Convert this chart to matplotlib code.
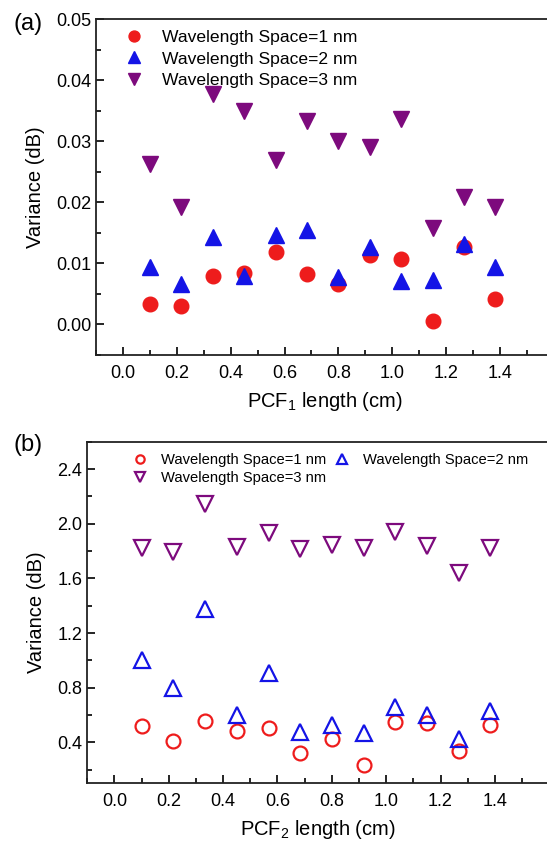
import numpy as np
import matplotlib
matplotlib.use("Agg")
import matplotlib.pyplot as plt
from matplotlib.ticker import MultipleLocator, FixedLocator

plt.rcParams['font.family'] = ['Liberation Sans', 'DejaVu Sans']
plt.rcParams['mathtext.fontset'] = 'custom'
plt.rcParams['mathtext.rm'] = 'Liberation Sans'
plt.rcParams['mathtext.it'] = 'Liberation Sans'

# PCF lengths (cm)
length = [0.1, 0.217, 0.333, 0.45, 0.567, 0.683, 0.8, 0.917, 1.033, 1.15, 1.267, 1.383]
xticks = [0.0, 0.2, 0.4, 0.6, 0.8, 1.0, 1.2, 1.4]

# panel (a) variance (dB)
a_space1 = [0.0033, 0.0031, 0.0080, 0.0084, 0.0119, 0.0082, 0.0067, 0.0113, 0.0107, 0.0006, 0.0127, 0.0042]
a_space2 = [0.0094, 0.0067, 0.0144, 0.0080, 0.0147, 0.0155, 0.0077, 0.0127, 0.0071, 0.0072, 0.0131, 0.0094]
a_space3 = [0.0263, 0.0192, 0.0377, 0.0349, 0.0270, 0.0333, 0.0300, 0.0291, 0.0336, 0.0158, 0.0209, 0.0192]

# panel (b) variance (dB)
b_space1 = [0.519, 0.412, 0.558, 0.480, 0.507, 0.320, 0.422, 0.235, 0.546, 0.544, 0.337, 0.529]
b_space2 = [1.006, 0.794, 1.378, 0.600, 0.904, 0.478, 0.527, 0.471, 0.660, 0.600, 0.422, 0.631]
b_space3 = [1.823, 1.792, 2.145, 1.828, 1.930, 1.816, 1.841, 1.821, 1.938, 1.836, 1.641, 1.821]

labels = ["Wavelength Space=1 nm", "Wavelength Space=2 nm", "Wavelength Space=3 nm"]
red, blue, purple = "#ee1c1c", "#1414e6", "#7d0a7d"

fig = plt.figure(figsize=(5.47, 8.44), dpi=100)

# ---- (a)
ax1 = fig.add_axes([0.1755, 0.5794, 0.837, 0.398])
ax1.plot(length, a_space1, 'o', color=red, markersize=10.5, linestyle='none', label=labels[0])
ax1.plot(length, a_space2, '^', color=blue, markersize=11.5, linestyle='none', label=labels[1])
ax1.plot(length, a_space3, 'v', color=purple, markersize=11.5, linestyle='none', label=labels[2])
ax1.set_xlim(-0.1, 1.6)
ax1.set_ylim(-0.005, 0.05)
ax1.yaxis.set_major_locator(MultipleLocator(0.01))
ax1.yaxis.set_minor_locator(MultipleLocator(0.005))
ax1.yaxis.set_major_formatter(matplotlib.ticker.FormatStrFormatter('%.2f'))
ax1.set_xlabel("PCF$_1$ length (cm)", fontsize=14.5, labelpad=6)
ax1.set_ylabel("Variance (dB)", fontsize=14.5, labelpad=8)
ax1.legend(loc='upper left', frameon=False, fontsize=12.6, handletextpad=0.6,
           labelspacing=0.38, markerscale=0.75, borderaxespad=0.0, bbox_to_anchor=(0.03, 0.99))
fig.text(0.024, 0.971, "(a)", fontsize=17, va='center', ha='left')

# ---- (b)
ax2 = fig.add_axes([0.1596, 0.0719, 0.8444, 0.4047])
h1, = ax2.plot(length, b_space1, 'o', mfc='none', mec=red, mew=1.6, markersize=10, linestyle='none', label=labels[0])
h2, = ax2.plot(length, b_space2, '^', mfc='none', mec=blue, mew=1.6, markersize=11, linestyle='none', label=labels[1])
h3, = ax2.plot(length, b_space3, 'v', mfc='none', mec=purple, mew=1.6, markersize=11, linestyle='none', label=labels[2])
ax2.set_xlim(-0.1, 1.6)
ax2.set_ylim(0.1, 2.6)
ax2.yaxis.set_major_locator(MultipleLocator(0.4))
ax2.yaxis.set_minor_locator(MultipleLocator(0.2))
ax2.yaxis.set_major_formatter(matplotlib.ticker.FormatStrFormatter('%.1f'))
ax2.set_xlabel("PCF$_2$ length (cm)", fontsize=14.5, labelpad=6)
ax2.set_ylabel("Variance (dB)", fontsize=14.5, labelpad=8)
ax2.legend([h1, h3, h2], [labels[0], labels[2], labels[1]], ncol=2, loc='upper left',
           frameon=False, fontsize=10.6, handletextpad=0.4, labelspacing=0.32,
           columnspacing=0.1, markerscale=0.6, borderaxespad=0.0, bbox_to_anchor=(0.07, 0.985))
fig.text(0.024, 0.473, "(b)", fontsize=17, va='center', ha='left')

for ax in (ax1, ax2):
    ax.xaxis.set_major_locator(FixedLocator(xticks))
    ax.xaxis.set_minor_locator(MultipleLocator(0.1))
    ax.xaxis.set_major_formatter(matplotlib.ticker.FormatStrFormatter('%.1f'))
    ax.tick_params(which='both', direction='in', labelsize=13, width=1.2)
    ax.tick_params(which='major', length=6)
    ax.tick_params(which='minor', length=3.5)
    ax.tick_params(axis='x', pad=7)
    for s in ax.spines.values():
        s.set_linewidth(1.3)
        s.set_color('#222222')

fig.savefig("out.png", dpi=100)
